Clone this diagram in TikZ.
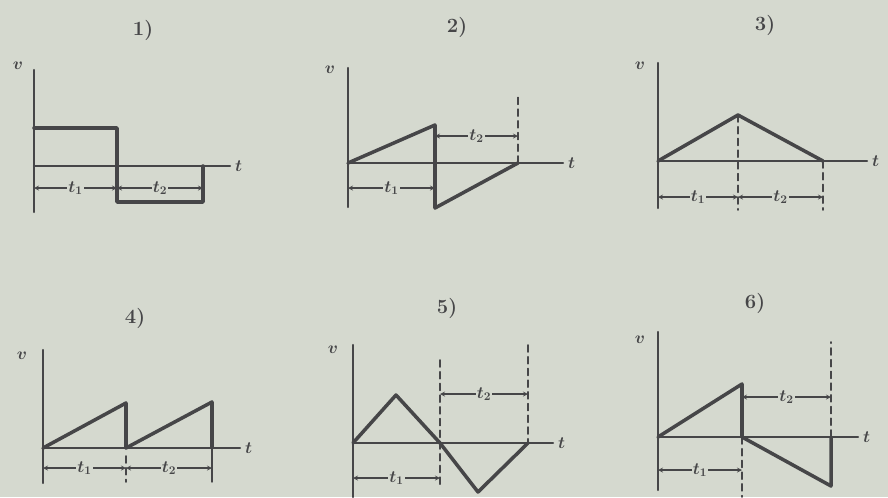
\documentclass[tikz,border=0pt]{standalone}
\usetikzlibrary{arrows.meta}
\definecolor{paper}{RGB}{213,217,207}
\definecolor{ink}{RGB}{70,70,72}
\begin{document}
\begin{tikzpicture}[x=0.03cm, y=-0.03cm, >=stealth, line cap=round, draw=ink,
  every node/.style={text=ink, font=\Large\boldmath},
  ax/.style={line width=2pt},
  wave/.style={line width=3pt, line join=round},
  guide/.style={line width=1.3pt, dash pattern=on 6pt off 4pt},
  dim/.style={<->, line width=0.9pt},
  lab/.style={fill=paper, inner sep=1pt, font=\Large\boldmath},
  num/.style={font=\LARGE\bfseries}]
	% 0. 背景
	\fill[paper] (0,0) rectangle (888,497);
	\useasboundingbox (0,0) rectangle (888,497);
	
	% 1. 矩形波
	\node[num] (n1) at (143,30) {1)};
	\node (v1) at (18,66) {$v$};
	\draw[ax] (34,70) -- (34,212);
	\draw[ax] (34,166) -- (230,166) node[right] (t1) {$t$};
	\draw[wave] (34,128) -- (117,128) -- (117,202) -- (203,202) -- (203,166);
	\draw[dim] (34,188) -- node[lab] {$t_1$} (117,188);
	\draw[dim] (117,188) -- node[lab] {$t_2$} (203,188);
	
	% 2. 锯齿 + 反向
	\node[num] (n2) at (457,27) {2)};
	\node (v2) at (330,70) {$v$};
	\draw[ax] (348,68) -- (348,207);
	\draw[ax] (348,163) -- (563,163) node[right] (t2) {$t$};
	\draw[wave] (348,163) -- (435,125) -- (435,208) -- (518,163);
	\draw[guide] (518,163) -- (518,95);
	\draw[dim] (435,136) -- node[lab] {$t_2$} (518,136);
	\draw[dim] (348,188) -- node[lab] {$t_1$} (435,188);
	
	% 3. 三角波
	\node[num] (n3) at (765,25) {3)};
	\node (v3) at (640,66) {$v$};
	\draw[ax] (658,63) -- (658,208);
	\draw[ax] (658,161) -- (867,161) node[right] (t3) {$t$};
	\draw[wave] (658,161) -- (738,115) -- (823,161);
	\draw[guide] (738,115) -- (738,210);
	\draw[guide] (823,161) -- (823,210);
	\draw[dim] (658,197) -- node[lab] {$t_1$} (738,197);
	\draw[dim] (738,197) -- node[lab] {$t_2$} (823,197);
	
	% 4. 两个锯齿
	\node[num] (n4) at (135,318) {4)};
	\node (v4) at (22,356) {$v$};
	\draw[ax] (43,350) -- (43,483);
	\draw[ax] (43,448) -- (240,448) node[right] (t4) {$t$};
	\draw[wave] (43,448) -- (126,403) -- (126,448) -- (212,402) -- (212,448);
	\draw[guide] (126,456) -- (126,482);
	\draw[line width=1.2pt] (212,448) -- (212,482);
	\draw[dim] (43,468) -- node[lab] {$t_1$} (126,468);
	\draw[dim] (126,468) -- node[lab] {$t_2$} (212,468);
	
	% 5. 正负三角
	\node[num] (n5) at (447,308) {5)};
	\node (v5) at (333,350) {$v$};
	\draw[ax] (353,345) -- (353,497);
	\draw[ax] (353,443) -- (553,443) node[right] (t5) {$t$};
	\draw[wave] (353,443) -- (396,395) -- (440,443) -- (478,492) -- (528,443);
	\draw[guide] (440,360) -- (440,485);
	\draw[guide] (528,345) -- (528,443);
	\draw[dim] (440,394) -- node[lab] {$t_2$} (528,394);
	\draw[dim] (353,478) -- node[lab] {$t_1$} (440,478);
	
	% 6. 正负锯齿
	\node[num] (n6) at (755,303) {6)};
	\node (v6) at (640,340) {$v$};
	\draw[ax] (658,332) -- (658,490);
	\draw[ax] (658,437) -- (858,437) node[right] (t6) {$t$};
	\draw[wave] (658,437) -- (742,384) -- (742,437) -- (831,486) -- (831,437);
	\draw[guide] (831,437) -- (831,342);
	\draw[guide] (742,437) -- (742,497);
	\draw[dim] (742,397) -- node[lab] {$t_2$} (831,397);
	\draw[dim] (658,470) -- node[lab] {$t_1$} (742,470);
\end{tikzpicture}
\end{document}
